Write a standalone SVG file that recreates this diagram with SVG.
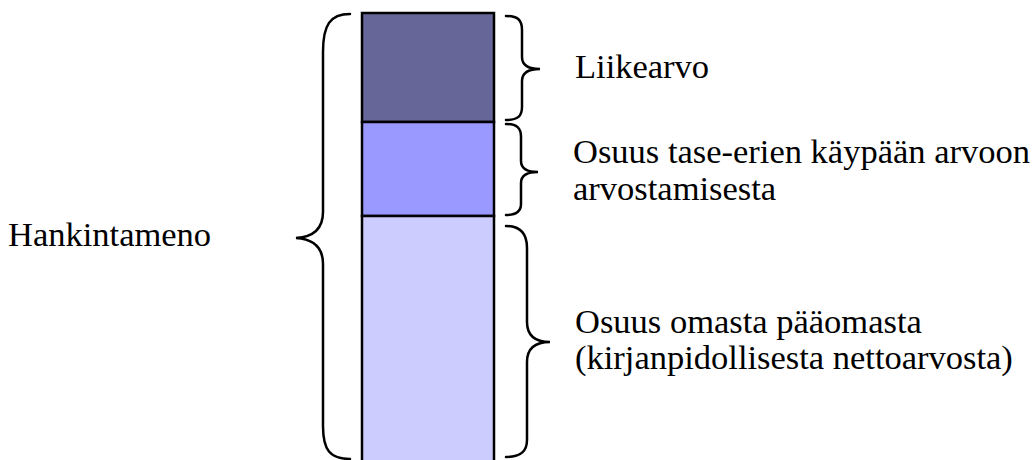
<svg xmlns="http://www.w3.org/2000/svg" width="1035" height="460" viewBox="0 0 1035 460">
  <style>
    .bar { stroke: #000; stroke-width: 2.5; }
    .brace { fill: none; stroke: #000; stroke-width: 2.5; stroke-linecap: round; }
    .lbl { font-family: 'Times New Roman', 'Liberation Serif', Tinos, 'DejaVu Serif', serif; font-size: 34.5px; fill: #000; }
  </style>
  <rect width="1035" height="460" fill="#fff"/>

  <!-- stacked bar -->
  <g id="bar-goodwill"><rect class="bar" x="362" y="13" width="132" height="109" fill="#666699"/></g>
  <g id="bar-fairvalue"><rect class="bar" x="362" y="122" width="132" height="94" fill="#9999FF"/></g>
  <g id="bar-equity"><rect class="bar" x="362" y="216" width="132" height="250" fill="#CCCCFF"/></g>

  <!-- braces -->
  <g id="connectors">
    <path class="brace" d="M350,14 C330,14 323,25 323,52 L323,212 C323,230 312,237 296,238 C312,239 323,246 323,264 L323,426 C323,450 330,459 350,459"/>
    <path class="brace" d="M506,16 C518,16 522,20 522,30 L522,57 C522,65 528,69 540,69 C528,69 522,73 522,81 L522,107 C522,116 518,120 506,120"/>
    <path class="brace" d="M506,124 C517,124 521,128 521,137 L521,161 C521,168 527,172 538,172 C527,172 521,176 521,183 L521,204 C521,211 517,215 506,215"/>
    <path class="brace" d="M506,226 C520,226 527,233 527,248 L527,322 C527,336 535,342 550,342 C535,342 527,348 527,362 L527,440 C527,452 520,457 506,457"/>
  </g>

  <!-- labels -->
  <g id="label-hankintameno"><text class="lbl" x="8" y="246">Hankintameno</text></g>
  <g id="label-liikearvo"><text class="lbl" x="575" y="78">Liikearvo</text></g>
  <g id="label-kaypaan">
    <text class="lbl" x="573" y="163">Osuus tase-erien käypään arvoon</text>
    <text class="lbl" x="573" y="200">arvostamisesta</text>
  </g>
  <g id="label-omapaaoma">
    <text class="lbl" x="575" y="333">Osuus omasta pääomasta</text>
    <text class="lbl" x="575" y="369">(kirjanpidollisesta nettoarvosta)</text>
  </g>
</svg>
